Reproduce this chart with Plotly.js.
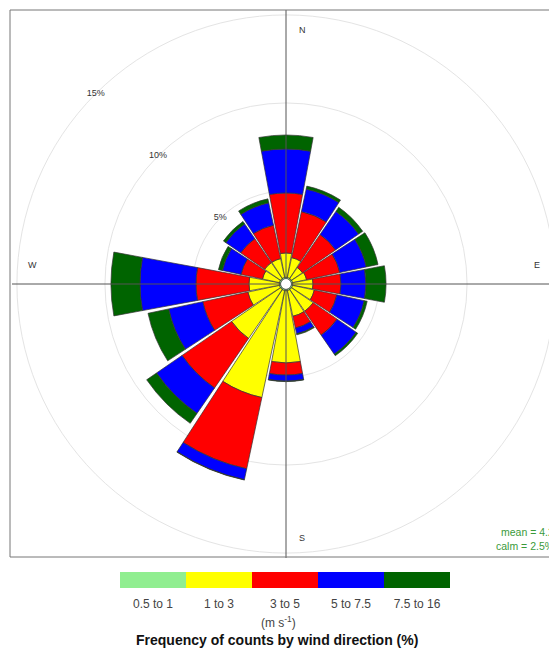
<!DOCTYPE html>
<html>
<head>
<meta charset="utf-8">
<script src="https://cdn.plot.ly/plotly-3.0.1.min.js"></script>
<style>
html,body{margin:0;padding:0;overflow:hidden;background:#fff;}
#chart{width:575px;height:651px;}
</style>
</head>
<body>
<div id="chart"></div>
<script>
// ---- data (percent of counts, per direction and speed bin) ----
const directions = [0,22.5,45,67.5,90,112.5,135,157.5,180,202.5,225,247.5,270,292.5,315,337.5];
const speedBins = ["0.5 to 1","1 to 3","3 to 5","5 to 7.5","7.5 to 16"];
const binColors = ["#90EE90","#FFFF00","#FF0000","#0000FF","#006400"];
const s05to1  = [0.10,0.10,0.10,0.10,0.10,0.10,0.10,0.10,0.10,0.10,0.10,0.10,0.10,0.10,0.10,0.10];
const s1to3   = [1.38,1.15,0.75,0.81,1.15,1.26,1.49,1.49,4.10,6.21,3.37,1.83,1.72,0.98,1.09,1.09];
const s3to5   = [3.41,2.67,2.28,1.93,1.59,1.31,1.65,0.68,0.69,4.14,3.41,2.62,3.01,1.25,1.65,1.94];
const s5to7_5 = [2.50,1.31,1.59,1.54,1.42,1.59,1.31,0.34,0.34,0.63,1.76,1.98,3.18,1.08,1.02,1.30];
const s7_5to16= [0.79,0.17,0.28,0.68,1.14,0.17,0.11,0.06,0.03,0.02,0.68,1.20,1.65,0.23,0.17,0.23];
const radialTicks = [5,10,15];
const radialTickText = ["5%","10%","15%"];
const compass = ["N","E","S","W"];
const meanText = "mean = 4.2";
const calmText = "calm = 2.5%";
const unitsText = "(m s<sup>-1</sup>)";
const titleText = "<b>Frequency of counts by wind direction (%)</b>";

// ---- layout helpers ----
const W = 575, H = 651;
const px = x => x / W;
const py = y => 1 - y / H;
const rMax = 15.28;
const font = "Liberation Sans, Arial, sans-serif";

const series = [s05to1, s1to3, s3to5, s5to7_5, s7_5to16];
const traces = series.map((vals, i) => ({
  type: "barpolar",
  r: vals,
  theta: directions,
  width: 21,
  name: speedBins[i],
  marker: {color: binColors[i], line: {color: "#333", width: 0.7}},
  showlegend: false,
  hoverinfo: "skip",
  subplot: "polar"
}));

// cross lines (drawn above bars)
traces.push({
  type: "scatterpolar", mode: "lines", subplot: "polar",
  r: [rMax, rMax], theta: [0, 180],
  line: {color: "#555", width: 1}, showlegend: false, hoverinfo: "skip"
});
traces.push({
  type: "scatterpolar", mode: "lines", subplot: "polar",
  r: [rMax, rMax], theta: [90, 270],
  line: {color: "#555", width: 1}, showlegend: false, hoverinfo: "skip"
});
// centre ring
const ringTheta = [];
for (let a = 0; a <= 360; a += 15) ringTheta.push(a);
traces.push({
  type: "scatterpolar", mode: "lines", subplot: "polar",
  r: ringTheta.map(() => 0), theta: ringTheta,
  line: {color: "#666", width: 1}, showlegend: false, hoverinfo: "skip"
});
// radial tick labels
traces.push({
  type: "scatterpolar", mode: "text", subplot: "polar",
  r: radialTicks, theta: radialTicks.map(() => 315),
  text: radialTickText,
  textfont: {family: font, size: 9, color: "#333"},
  showlegend: false, hoverinfo: "skip"
});

// legend key as a bar strip
traces.push({
  type: "bar", x: speedBins, y: speedBins.map(() => 1),
  marker: {color: binColors, line: {width: 0}},
  xaxis: "x", yaxis: "y", showlegend: false, hoverinfo: "skip"
});

const compassPos = [[302,30],[537,265],[302,538],[32,265]];
const annotations = compass.map((t, i) => ({
  text: t, x: px(compassPos[i][0]), y: py(compassPos[i][1]),
  xref: "paper", yref: "paper", xanchor: "center", yanchor: "middle", showarrow: false,
  font: {family: font, size: 9, color: "#333"}
}));
annotations.push({text: meanText, x: px(556), y: py(532), xref: "paper", yref: "paper",
  xanchor: "right", yanchor: "middle", showarrow: false, font: {family: font, size: 10.5, color: "#3a9a3a"}});
annotations.push({text: calmText, x: px(556), y: py(546), xref: "paper", yref: "paper",
  xanchor: "right", yanchor: "middle", showarrow: false, font: {family: font, size: 10.5, color: "#3a9a3a"}});
annotations.push({text: unitsText, x: px(278), y: py(622), xref: "paper", yref: "paper",
  xanchor: "center", yanchor: "middle", showarrow: false, font: {family: font, size: 12, color: "#444"}});
annotations.push({text: titleText, x: px(277), y: py(640), xref: "paper", yref: "paper",
  xanchor: "center", yanchor: "middle", showarrow: false, font: {family: font, size: 14, color: "#111"}});

const layout = {
  width: W, height: H,
  margin: {l: 0, r: 0, t: 0, b: 0},
  paper_bgcolor: "#fff",
  plot_bgcolor: "#fff",
  polar: {
    domain: {x: [px(12), px(560)], y: [py(558), py(10)]},
    bgcolor: "rgba(0,0,0,0)",
    hole: 5 / 274,
    barmode: "stack",
    radialaxis: {
      range: [0, rMax], tickvals: radialTicks, showticklabels: false,
      ticks: "", showline: false, showgrid: true, gridcolor: "#e4e4e4", gridwidth: 1
    },
    angularaxis: {
      rotation: 90, direction: "clockwise", showgrid: false, showline: false,
      showticklabels: false, ticks: ""
    }
  },
  xaxis: {
    domain: [px(120), px(450)], anchor: "y", range: [-0.5, 4.5],
    showgrid: false, zeroline: false, showline: false, ticks: "",
    ticklabelstandoff: 7,
    tickfont: {family: font, size: 12, color: "#444"}, fixedrange: true
  },
  yaxis: {
    domain: [py(588), py(572)], anchor: "x", range: [0, 1],
    showgrid: false, zeroline: false, showline: false, showticklabels: false, fixedrange: true
  },
  bargap: 0,
  shapes: [{
    type: "rect", xref: "paper", yref: "paper",
    x0: px(10), x1: px(562), y0: py(557), y1: py(10),
    line: {color: "#777", width: 1}, layer: "above"
  }],
  annotations: annotations
};

Plotly.newPlot("chart", traces, layout, {displayModeBar: false, staticPlot: true});
</script>
</body>
</html>
